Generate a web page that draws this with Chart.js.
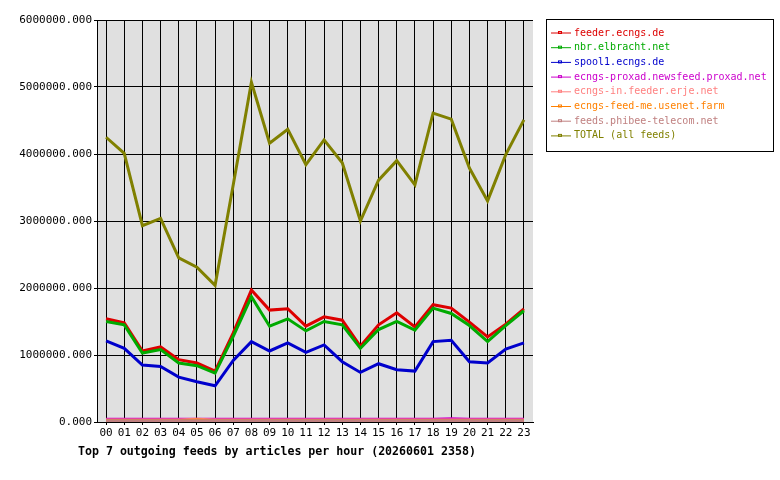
<!DOCTYPE html><html><head><meta charset="utf-8">
<script src="https://cdn.jsdelivr.net/npm/chart.js@4"></script>
<style>body{margin:0;background:#fff}#w{width:780px;height:480px}</style></head><body>
<div id="w"><canvas id="c" width="780" height="480"></canvas></div>
<script>
const hours=['00','01','02','03','04','05','06','07','08','09','10','11','12','13','14','15','16','17','18','19','20','21','22','23'];
const feederEcngs=[1540000,1480000,1060000,1120000,930000,880000,760000,1330000,1970000,1670000,1690000,1430000,1570000,1520000,1130000,1450000,1630000,1420000,1750000,1700000,1490000,1270000,1460000,1690000];
const nbrElbracht=[1500000,1450000,1030000,1080000,880000,840000,730000,1280000,1870000,1430000,1540000,1360000,1500000,1450000,1100000,1380000,1500000,1370000,1700000,1620000,1440000,1200000,1440000,1660000];
const spool1=[1210000,1100000,850000,830000,670000,600000,540000,920000,1200000,1060000,1180000,1040000,1150000,900000,740000,870000,780000,760000,1200000,1220000,900000,880000,1090000,1180000];
const proxad=[40000,40000,40000,40000,40000,40000,40000,40000,40000,40000,40000,40000,40000,40000,40000,40000,40000,40000,40000,50000,40000,40000,40000,40000];
const erje=[30000,30000,30000,30000,30000,40000,30000,30000,30000,30000,30000,30000,30000,30000,30000,30000,30000,30000,30000,30000,30000,30000,30000,30000];
const usenetFarm=[20000,20000,20000,20000,20000,30000,20000,20000,20000,20000,20000,20000,20000,20000,20000,20000,20000,20000,20000,20000,20000,20000,20000,20000];
const phibee=[20000,20000,20000,20000,20000,20000,20000,20000,20000,20000,20000,20000,20000,20000,20000,20000,20000,20000,20000,20000,20000,20000,20000,20000];
const total=[4250000,4010000,2930000,3040000,2450000,2310000,2040000,3540000,5070000,4160000,4370000,3840000,4210000,3870000,3000000,3610000,3900000,3540000,4610000,4520000,3790000,3300000,3990000,4510000];
const names=['feeder.ecngs.de','nbr.elbracht.net','spool1.ecngs.de','ecngs-proxad.newsfeed.proxad.net','ecngs-in.feeder.erje.net','ecngs-feed-me.usenet.farm','feeds.phibee-telecom.net','TOTAL (all feeds)'];
const colors=['#dd0000','#00aa00','#0000cc','#cc00cc','#ff8080','#ff8000','#c08080','#808000'];
const series=[feederEcngs,nbrElbracht,spool1,proxad,erje,usenetFarm,phibee,total];
const F='"DejaVu Sans Mono", monospace';
const ds=series.map((d,i)=>({label:names[i],data:d,borderColor:colors[i],backgroundColor:colors[i],borderWidth:3,pointRadius:0,tension:0,order:7-i}));
const deco={id:'deco',
beforeDraw(ch){const a=ch.chartArea,x=ch.ctx;x.save();x.fillStyle='#e0e0e0';x.fillRect(a.left,a.top,a.right-a.left,a.bottom-a.top);x.restore();},
afterDraw(ch){const x=ch.ctx;x.save();
x.strokeStyle='#000';x.lineWidth=1;x.strokeRect(546.5,19.5,227,132);
x.font='10px '+F;x.textBaseline='middle';
names.forEach((n,i)=>{const y=33+i*14.7;x.strokeStyle=colors[i];x.beginPath();x.moveTo(551,y);x.lineTo(571,y);x.stroke();x.strokeRect(558.5,y-1.5,3,2);x.fillStyle=colors[i];x.fillText(n,574,y);});
x.fillStyle='#000';x.font='bold 11.6px '+F;x.textBaseline='middle';x.fillText('Top 7 outgoing feeds by articles per hour (20260601 2358)',78,452);
x.restore();}};
new Chart(document.getElementById('c'),{type:'line',data:{labels:hours,datasets:ds},plugins:[deco],
options:{responsive:false,animation:false,layout:{padding:{top:20,right:247,left:0,bottom:0}},
plugins:{legend:{display:false},tooltip:{enabled:false}},
scales:{x:{offset:true,grid:{offset:false,color:'#000',drawTicks:true,tickLength:3},border:{color:'#000'},ticks:{color:'#000',font:{family:F,size:11},maxRotation:0,autoSkip:false,padding:2},afterFit(s){s.height=58;}},
y:{min:0,max:6000000,grid:{color:'#000',tickLength:3},border:{color:'#000'},ticks:{stepSize:1000000,color:'#000',font:{family:F,size:11},padding:2,callback:v=>v.toFixed(3)},afterFit(s){s.width=97;}}}}});
</script></body></html>
